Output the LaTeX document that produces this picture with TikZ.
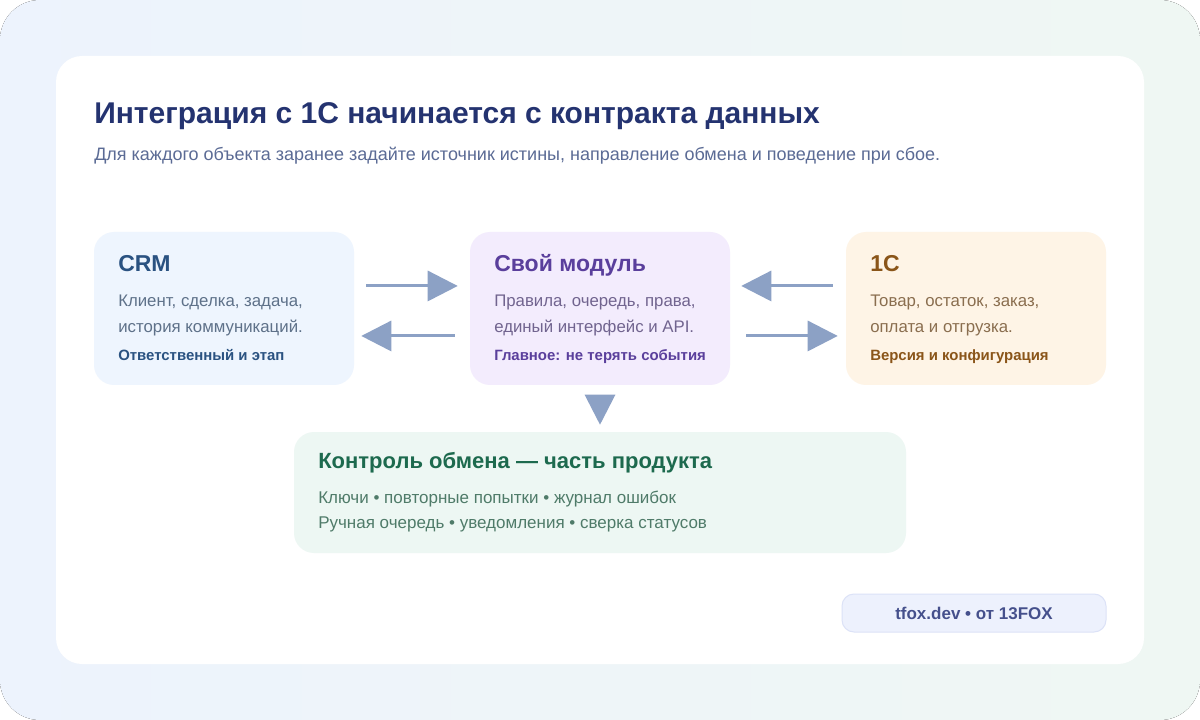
\documentclass[tikz,border=0pt]{standalone}
\usepackage{fontspec}
\setmainfont{Liberation Sans}
\usetikzlibrary{arrows.meta, positioning}
\definecolor{bgleft}{HTML}{EDF3FD}
\definecolor{bgright}{HTML}{EFF7F3}
\definecolor{titlenavy}{HTML}{243370}
\definecolor{subnavy}{HTML}{5B6B95}
\definecolor{arrowgrey}{HTML}{8CA1C5}
\definecolor{crmfill}{HTML}{EEF5FE}
\definecolor{crmhead}{HTML}{2A5281}
\definecolor{crmtext}{HTML}{5E7189}
\definecolor{modfill}{HTML}{F3ECFD}
\definecolor{modhead}{HTML}{5A3F9C}
\definecolor{modtext}{HTML}{71648F}
\definecolor{onecfill}{HTML}{FEF4E6}
\definecolor{onechead}{HTML}{8A5519}
\definecolor{onectext}{HTML}{8A6E4F}
\definecolor{ctrlfill}{HTML}{EDF7F3}
\definecolor{ctrlhead}{HTML}{1D6A4E}
\definecolor{ctrltext}{HTML}{4F7B69}
\definecolor{badgefill}{HTML}{EDF1FD}
\definecolor{badgeline}{HTML}{DCE2F7}
\definecolor{badgetext}{HTML}{45508C}

\begin{document}
\begin{tikzpicture}[
        x=0.75pt, y=-0.75pt,
        box/.style={rectangle, rounded corners=15pt, minimum width=195pt, minimum height=114.75pt, inner sep=0pt},
        boxtitle/.style={anchor=base west, inner sep=0pt, font=\fontsize{17.25}{20}\selectfont\bfseries},
        boxtext/.style={anchor=base west, inner sep=0pt, font=\fontsize{12.6}{15}\selectfont},
        boxnote/.style={anchor=base west, inner sep=0pt, font=\fontsize{11.2}{13}\selectfont\bfseries},
        flow/.style={-{Triangle[length=22.5pt, width=22.5pt]}, line width=2.25pt, arrowgrey}
    ]
        % Background and card
        \useasboundingbox (0,0) rectangle (1200,720);
        \fill[white] (0,0) rectangle (1200,720);
        \fill[left color=bgleft, right color=bgright, rounded corners=30pt] (0,0) rectangle (1200,720);
        \fill[white, rounded corners=19.5pt] (56,56) rectangle (1144,664);

        % Heading
        \node[anchor=base west, inner sep=0pt, font=\fontsize{22.5}{26}\selectfont\bfseries, titlenavy] (heading) at (94,124) {Интеграция с 1С начинается с контракта данных};
        \node[anchor=base west, inner sep=0pt, font=\fontsize{13.5}{16}\selectfont, subnavy] (subheading) at (94,161) {Для каждого объекта заранее задайте источник истины, направление обмена и поведение при сбое.};

        % CRM
        \node[box, fill=crmfill] (crm) at (224,308.5) {};
        \node[boxtitle, crmhead] at (118,272) {CRM};
        \node[boxtext, crmtext] at (118,307) {Клиент, сделка, задача,};
        \node[boxtext, crmtext] at (118,333) {история коммуникаций.};
        \node[boxnote, crmhead] at (118,361) {Ответственный и этап};

        % Own module
        \node[box, fill=modfill] (module) at (600,308.5) {};
        \node[boxtitle, modhead] at (494,272) {Свой модуль};
        \node[boxtext, modtext] at (494,307) {Правила, очередь, права,};
        \node[boxtext, modtext] at (494,333) {единый интерфейс и API.};
        \node[boxnote, modhead] at (494,361) {Главное: не терять события};

        % 1C
        \node[box, fill=onecfill] (onec) at (976,308.5) {};
        \node[boxtitle, onechead] at (870,272) {1С};
        \node[boxtext, onectext] at (870,307) {Товар, остаток, заказ,};
        \node[boxtext, onectext] at (870,333) {оплата и отгрузка.};
        \node[boxnote, onechead] at (870,361) {Версия и конфигурация};

        % Exchange control
        \node[box, fill=ctrlfill, minimum width=459pt, minimum height=90.75pt] (control) at (600,492.5) {};
        \node[boxtitle, ctrlhead, font=\fontsize{16.5}{20}\selectfont\bfseries] at (318,468) {Контроль обмена — часть продукта};
        \node[boxtext, ctrltext, font=\fontsize{12.75}{15}\selectfont] at (318,503) {Ключи • повторные попытки • журнал ошибок};
        \node[boxtext, ctrltext, font=\fontsize{12.75}{15}\selectfont] at (318,528) {Ручная очередь • уведомления • сверка статусов};

        % Arrows
        \draw[flow, shorten <=9pt, shorten >=9pt] ([yshift=16.9pt]crm.east) -- ([yshift=16.9pt]module.west);
        \draw[flow, shorten <=11.25pt, shorten >=5.25pt] ([yshift=-20.6pt]module.west) -- ([yshift=-20.6pt]crm.east);
        \draw[flow, shorten <=9.75pt, shorten >=8.25pt] ([yshift=16.9pt]onec.west) -- ([yshift=16.9pt]module.east);
        \draw[flow, shorten <=12pt, shorten >=6pt] ([yshift=-20.6pt]module.east) -- ([yshift=-20.6pt]onec.west);
        \draw[flow, shorten <=7.5pt, shorten >=5.25pt] (module.south) -- (control.north);

        % Badge
        \node[rectangle, rounded corners=9pt, fill=badgefill, draw=badgeline, line width=0.75pt, minimum width=198pt, minimum height=28.5pt, font=\fontsize{12.75}{15}\selectfont\bfseries, text=badgetext] (badge) at (974,613) {tfox.dev • от 13FOX};

    \end{tikzpicture}
\end{document}
